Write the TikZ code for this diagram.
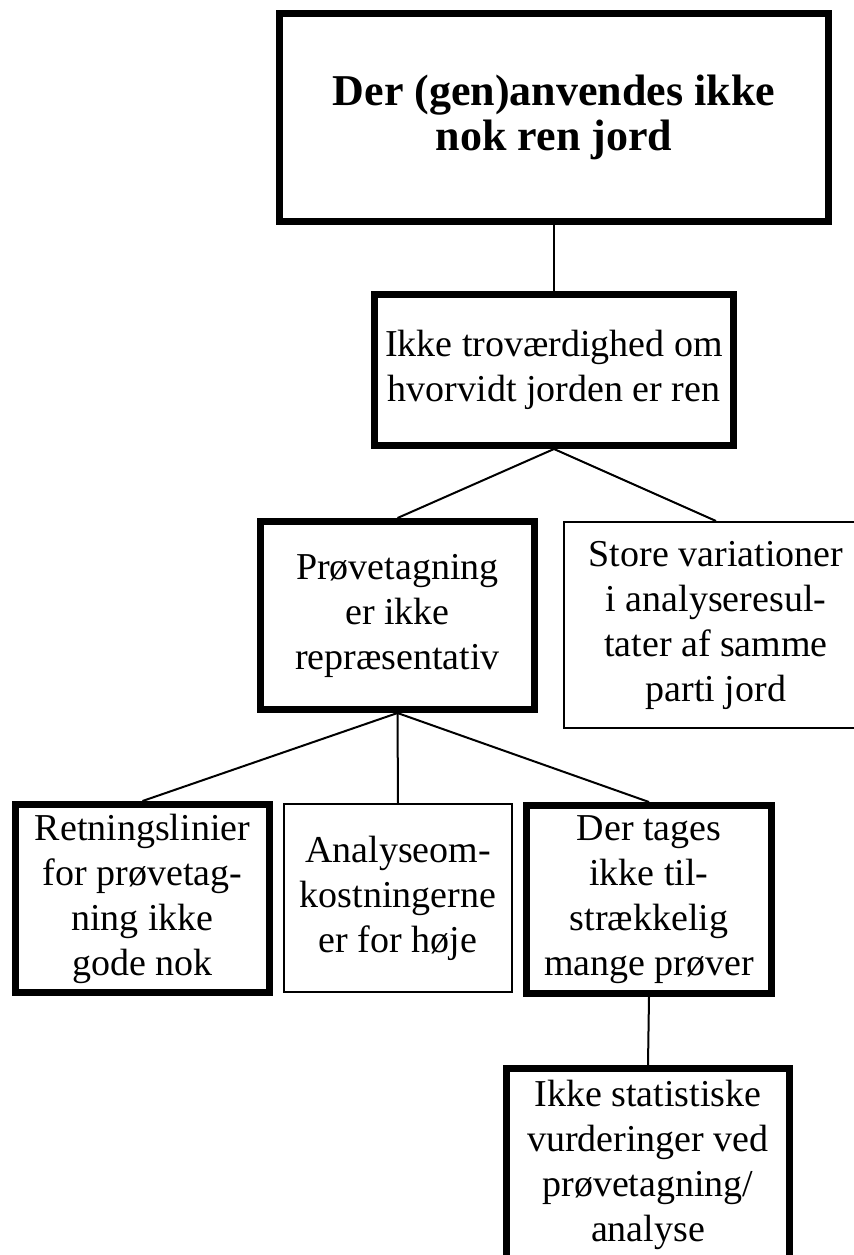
\documentclass[tikz,border=0pt]{standalone}
\usepackage{fontspec}
\setmainfont{Liberation Serif}
\usepackage{tikz}

\begin{document}
\begin{tikzpicture}[
    x=0.5pt, y=-0.5pt,
    thickbox/.style={rectangle, draw, line width=3.5pt, align=center,
                     font=\fontsize{19}{22.5}\selectfont, inner sep=2pt},
    thinbox/.style={thickbox, line width=1pt},
    link/.style={line width=1pt},
  ]
  \clip (0,0) rectangle (854,1255);

  \node[thickbox, minimum width=274.5pt, minimum height=104pt,
        font=\fontsize{22}{22.5}\selectfont\bfseries] (root) at (554,117.5)
        {Der (gen)anvendes ikke\\nok ren jord};
  \node[thickbox, minimum width=179.5pt, minimum height=75.5pt] (trust) at (554,370)
        {Ikke troværdighed om\\hvorvidt jorden er ren};
  \node[thickbox, minimum width=137pt, minimum height=94pt] (sampling) at (397.5,615.5)
        {Prøvetagning\\er ikke\\repræsentativ};
  \node[thinbox, minimum width=152pt, minimum height=103pt] (variation) at (716,625)
        {Store variationer\\i analyseresul-\\tater af samme\\parti jord};
  \node[thickbox, minimum width=127pt, minimum height=94pt] (guide) at (142.5,898.5)
        {Retningslinier\\for prøvetag-\\ning ikke\\gode nok};
  \node[thinbox, minimum width=114pt, minimum height=94pt] (cost) at (398,898)
        {Analyseom-\\kostningerne\\er for høje};
  \node[thickbox, minimum width=122.5pt, minimum height=94pt] (few) at (649,899.5)
        {Der tages\\ikke til-\\strækkelig\\mange prøver};
  \node[thickbox, minimum width=141.5pt, minimum height=96.5pt] (stats) at (648,1165)
        {Ikke statistiske\\vurderinger ved\\prøvetagning/\\analyse};

  \draw[link] (root.south) -- (trust.north);
  \draw[link] (trust.south) -- (sampling.north);
  \draw[link] (trust.south) -- (variation.north);
  \draw[link] (sampling.south) -- (guide.north);
  \draw[link] (sampling.south) -- (cost.north);
  \draw[link] (sampling.south) -- (few.north);
  \draw[link] (few.south) -- (stats.north);
\end{tikzpicture}
\end{document}
